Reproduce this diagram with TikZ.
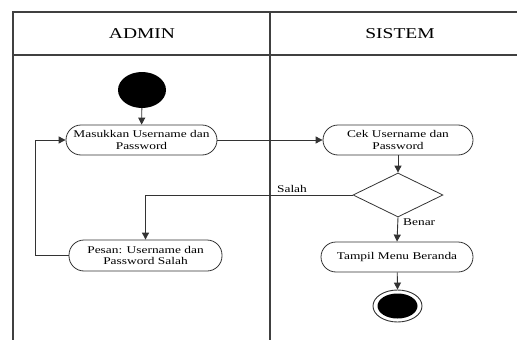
\documentclass[tikz,border=0pt]{standalone}
\usepackage{fontspec}
\setmainfont[FakeStretch=1.3]{Liberation Serif}
\usetikzlibrary{shapes.geometric,arrows.meta}
\begin{document}
\begin{tikzpicture}[x=1pt,y=-1pt,
  lane/.style={draw=black!75,line width=1.2pt},
  act/.style={draw=black!80,line width=0.8pt,rounded corners=15pt,inner sep=0pt,
    align=center,font=\fontsize{10.3}{11.2}\selectfont,minimum height=30pt},
  flow/.style={draw=black!80,line width=0.9pt,-{Triangle[length=7pt,width=7pt]}},
  lbl/.style={font=\fontsize{10.3}{12}\selectfont,inner sep=1pt},
  head/.style={font=\fontsize{15}{18}\selectfont}]
\useasboundingbox (0,0) rectangle (517,340);
% swimlane frame
\draw[lane] (517,12) -- (13,12) -- (13,340);
\draw[lane] (13,55) -- (517,55);
\draw[lane] (270,12) -- (270,340);
\node[head] (hadmin) at (142,34) {ADMIN};
\node[head] (hsistem) at (400,34) {SISTEM};
% admin lane
\node[ellipse,fill=black,minimum width=48pt,minimum height=36pt,inner sep=0pt] (start) at (142,90) {};
\node[act,minimum width=151pt] (input) at (141.5,140) {Masukkan Username dan\\Password};
\node[act,minimum width=153pt,minimum height=31pt] (pesan) at (145.5,255.5) {Pesan: Username dan\\Password Salah};
% sistem lane
\node[act,minimum width=150pt] (cek) at (398,140) {Cek Username dan\\Password};
\node[diamond,draw=black!80,line width=0.8pt,minimum width=90pt,minimum height=44pt,inner sep=0pt] (cond) at (398,195) {};
\node[act,minimum width=152pt] (tampil) at (397,257) {Tampil Menu Beranda};
\node[ellipse,draw=black!80,line width=0.9pt,minimum width=49pt,minimum height=32pt,inner sep=0pt] (finish) at (397.5,306) {};
\node[ellipse,fill=black,minimum width=40pt,minimum height=25pt,inner sep=0pt] (finishdot) at (397.5,306) {};
% flows
\draw[flow] (start) -- (input);
\draw[flow] (input) -- (cek);
\draw[flow] (cek) -- (cond);
\draw[flow] (cond.west) -| (pesan.north);
\node[lbl,anchor=south] (salah) at (292,194) {Salah};
\draw[flow] (cond.south) -- (tampil.north);
\node[lbl,anchor=west] (benar) at (402,222) {Benar};
\draw[flow] (tampil) -- (finish.north);
\draw[flow] (pesan.west) -- (35,255.5) |- (input.west);
\end{tikzpicture}
\end{document}
